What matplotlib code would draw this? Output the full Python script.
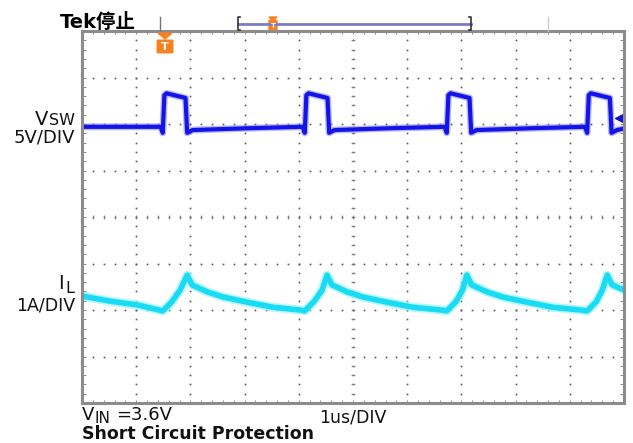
import numpy as np
import matplotlib
matplotlib.use('Agg')
import matplotlib.pyplot as plt
from matplotlib.patches import FancyBboxPatch, Polygon

# time in us (1us/DIV), levels in divisions counted from the bottom of the screen
vsw_t = [0.00, 1.45, 1.49, 1.52, 1.56, 1.91, 1.94, 2.04, 3.09,
         4.07, 4.11, 4.14, 4.18, 4.53, 4.56, 4.66, 5.71,
         6.69, 6.73, 6.76, 6.80, 7.15, 7.18, 7.28, 8.33,
         9.28, 9.32, 9.35, 9.39, 9.74, 9.77, 9.87, 9.95]
vsw_v = [5.94, 5.94, 5.81, 6.62, 6.66, 6.56, 5.81, 5.87, 5.91,
         5.94, 5.81, 6.62, 6.66, 6.56, 5.81, 5.87, 5.91,
         5.94, 5.81, 6.62, 6.66, 6.56, 5.81, 5.87, 5.91,
         5.94, 5.81, 6.62, 6.66, 6.56, 5.81, 5.87, 5.89]

il_t = [0.00, 0.52, 1.02, 1.49, 1.66, 1.81, 1.94, 2.03, 2.31, 2.60, 3.04, 3.52, 4.02, 4.11,
        4.28, 4.43, 4.52, 4.61, 4.89, 5.18, 5.62, 6.10, 6.62, 6.73,
        6.90, 7.02, 7.10, 7.19, 7.47, 7.76, 8.20, 8.68, 9.20, 9.32,
        9.49, 9.60, 9.69, 9.78, 10.0]
il_v = [2.30, 2.19, 2.11, 1.98, 2.18, 2.43, 2.75, 2.54, 2.39, 2.28, 2.17, 2.06, 2.00, 1.98,
        2.18, 2.43, 2.75, 2.54, 2.39, 2.28, 2.17, 2.06, 2.00, 1.98,
        2.18, 2.43, 2.75, 2.54, 2.39, 2.28, 2.17, 2.06, 2.00, 1.98,
        2.18, 2.43, 2.75, 2.54, 2.43]

W, H = 633, 443
fig = plt.figure(figsize=(W / 100, H / 100), dpi=100)
fig.patch.set_facecolor('white')

ax = fig.add_axes([82 / W, (H - 403) / H, 542 / W, 372 / H])
ax.set_xlim(0, 10)
ax.set_ylim(0, 8)
ax.set_xticks([])
ax.set_yticks([])
for s in ax.spines.values():
    s.set_color('#8c8c8c')
    s.set_linewidth(2.2)

# graticule: dotted lines, dots every 1/5 division
minor_x = np.arange(0, 10.01, 0.2)
minor_y = np.arange(0, 8.01, 0.2)
dot = dict(ls='none', marker='s', ms=1.2, color='#555555', mew=0)
for gx in range(1, 10):
    ax.plot(np.full_like(minor_y, gx), minor_y, **dot)
for gy in range(1, 8):
    ax.plot(minor_x, np.full_like(minor_x, gy), **dot)
# small ticks on center lines and border
tk = dict(ls='none', color='#777777', mew=0.6)
ax.plot(np.full_like(minor_y, 5), minor_y, marker='_', ms=2.5, **tk)
ax.plot(minor_x, np.full_like(minor_x, 4), marker='|', ms=2.5, **tk)
ax.plot(minor_x, np.full_like(minor_x, 7.97), marker='|', ms=2.5, **tk)
ax.plot(minor_x, np.full_like(minor_x, 0.03), marker='|', ms=2.5, **tk)
ax.plot(np.full_like(minor_y, 0.03), minor_y, marker='_', ms=2.5, **tk)
ax.plot(np.full_like(minor_y, 9.97), minor_y, marker='_', ms=2.5, **tk)

# traces (wide light halo + solid core for the persistence look)
ax.plot(vsw_t, vsw_v, color='#8c8cff', lw=5.0, alpha=0.6, solid_joinstyle='round')
ax.plot(vsw_t, vsw_v, color='#1414e6', lw=3.0, solid_joinstyle='round')
ax.plot(il_t, il_v, color='#a8f4ff', lw=6.5, alpha=0.8, solid_joinstyle='round')
ax.plot(il_t, il_v, color='#19dcf2', lw=4.0, solid_joinstyle='round')

# channel reference markers
ax.plot([9.9], [6.13], marker='<', ms=6, color='#1414c8', clip_on=False)
ax.plot([9.9, 10.0], [6.13, 6.13], color='#1414c8', lw=1.2, clip_on=False)

# overlay in pixel coordinates for labels and scope indicators
ov = fig.add_axes([0, 0, 1, 1], zorder=5)
ov.set_xlim(0, W)
ov.set_ylim(H, 0)
ov.axis('off')
ov.patch.set_alpha(0)

orange = '#f5821f'
ov.plot([160, 160], [17, 31], color='#777777', lw=1)
ov.plot([548, 548], [17, 31], color='#cccccc', lw=1)
ov.plot([238, 471], [23.5, 23.5], color='#7b7bc6', lw=2)
ov.plot([240, 238, 238, 240], [17, 17, 30, 30], color='#333333', lw=1.2)
ov.plot([469, 471, 471, 469], [17, 17, 30, 30], color='#333333', lw=1.2)
ov.add_patch(Polygon([[269, 17], [277, 17], [273, 21]], color=orange))
ov.add_patch(FancyBboxPatch((269.5, 21), 7, 8, boxstyle='round,pad=0.5', color=orange))
ov.text(273, 25.5, 'T', color='white', fontsize=5, ha='center', va='center', fontweight='bold')
ov.add_patch(Polygon([[158, 33], [172, 33], [165, 39]], color=orange))
ov.add_patch(FancyBboxPatch((158, 41), 14, 11, boxstyle='round,pad=0.8', color=orange))
ov.text(165, 46.5, 'T', color='white', fontsize=8, ha='center', va='center', fontweight='bold')

cjk = ['DejaVu Sans', 'Noto Sans CJK SC']
ov.text(60, 28, 'Tek停止', fontsize=14, fontweight='bold', family=cjk, va='baseline')

lab = dict(family='DejaVu Sans', color='#111111', va='baseline')
ov.text(48, 125, 'V', fontsize=14, ha='right', **lab)
ov.text(49, 125, 'SW', fontsize=11.5, ha='left', **lab)
ov.text(75, 143, '5V/DIV', fontsize=13, ha='right', **lab)
ov.text(64, 289, 'I', fontsize=14, ha='right', **lab)
ov.text(65, 293, 'L', fontsize=11.5, ha='left', **lab)
ov.text(75, 311, '1A/DIV', fontsize=12.5, ha='right', **lab)
ov.text(82, 420, 'V', fontsize=13, ha='left', **lab)
ov.text(95, 423, 'IN', fontsize=11, ha='left', **lab)
ov.text(116, 420, '=3.6V', fontsize=13, ha='left', **lab)
ov.text(319, 423, '1us/DIV', fontsize=12.5, ha='left', **lab)
ov.text(82, 439, 'Short Circuit Protection', fontsize=12.5, fontweight='bold', ha='left', **lab)

fig.savefig('out.png', dpi=100)
